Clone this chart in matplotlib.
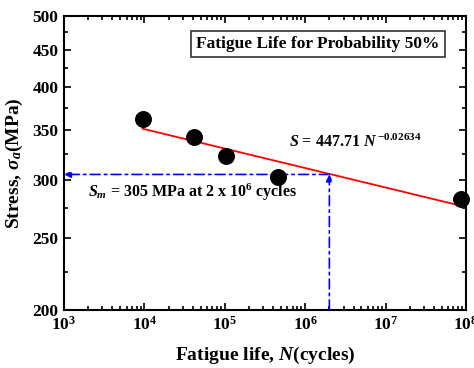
import numpy as np
import matplotlib
matplotlib.use("Agg")
import matplotlib.pyplot as plt
from matplotlib.ticker import LogLocator, FixedLocator, NullFormatter

plt.rcParams['font.family'] = ['Liberation Serif', 'DejaVu Serif']
plt.rcParams['mathtext.fontset'] = 'custom'
plt.rcParams['mathtext.rm'] = 'Liberation Serif:bold'
plt.rcParams['mathtext.it'] = 'Liberation Serif:bold:italic'
plt.rcParams['mathtext.bf'] = 'Liberation Serif:bold'

# test data
cycles = [9.5e3, 4.1e4, 1.03e5, 4.6e5, 8.7e7]
stress = [362.6, 342.6, 323.0, 302.8, 282.6]

# basquin fit S = A * N^b
fit_A = 447.71
fit_b = -0.02634
fit_range = [9.5e3, 9.0e7]

target_N = 2e6
target_S = 305

yticks = [200, 250, 300, 350, 400, 450, 500]
yminor = [225, 275, 325, 375, 425, 475]

fig = plt.figure(figsize=(4.74, 3.68), dpi=100)
ax = fig.add_axes([0.135, 0.158, 0.848, 0.799])

N = np.logspace(np.log10(fit_range[0]), np.log10(fit_range[1]), 100)
ax.plot(N, fit_A * N ** fit_b, color='red', lw=1.3, zorder=3)
ax.scatter(cycles, stress, s=125, color='black', zorder=4, clip_on=False)

# blue guide lines with arrow heads
ax.annotate('', xy=(target_N, target_S), xytext=(target_N, 200),
            arrowprops=dict(arrowstyle='-|>', color='blue', lw=1.2, ls=(0, (6, 2.5, 1.5, 2.5)),
                            mutation_scale=10, shrinkA=0, shrinkB=0))
ax.annotate('', xy=(1e3, target_S), xytext=(target_N, target_S),
            arrowprops=dict(arrowstyle='-|>', color='blue', lw=1.2, ls=(0, (6, 2.5, 1.5, 2.5)),
                            mutation_scale=10, shrinkA=0, shrinkB=0))

ax.set_xscale('log')
ax.set_yscale('log')
ax.set_xlim(1e3, 1e8)
ax.set_ylim(200, 500)

ax.xaxis.set_major_locator(LogLocator(base=10, numticks=10))
ax.xaxis.set_minor_locator(LogLocator(base=10, subs=np.arange(2, 10), numticks=20))
ax.xaxis.set_minor_formatter(NullFormatter())
ax.yaxis.set_major_locator(FixedLocator(yticks))
ax.yaxis.set_minor_locator(FixedLocator(yminor))
ax.set_yticklabels([str(v) for v in yticks])
ax.yaxis.set_minor_formatter(NullFormatter())

ax.tick_params(which='both', direction='in', top=True, right=True, width=1.2)
ax.tick_params(which='major', length=5, labelsize=12.5, pad=4)
ax.tick_params(which='minor', length=3)
for lab in ax.get_xticklabels() + ax.get_yticklabels():
    lab.set_fontweight('bold')
for s in ax.spines.values():
    s.set_linewidth(1.5)

ax.set_xlabel(r'Fatigue life, $\it{N}$(cycles)', fontsize=14, fontweight='bold', labelpad=8)
ax.set_ylabel(r'Stress, $\sigma_a$(MPa)', fontsize=14, fontweight='bold', labelpad=5)

ax.text(0.935, 0.905, 'Fatigue Life for Probability 50%', transform=ax.transAxes,
        ha='right', va='center', fontsize=12.5, fontweight='bold',
        bbox=dict(boxstyle='square,pad=0.3', fc='white', ec='#333333', lw=1.2))
ax.text(0.56, 0.555, r'$S$ = 447.71 $N^{\,\mathrm{-0.02634}}$', transform=ax.transAxes,
        fontsize=11.5, fontweight='bold')
ax.text(0.06, 0.385, r'$S_m$ = 305 MPa at 2 x 10$^6$ cycles', transform=ax.transAxes,
        fontsize=11.5, fontweight='bold')

fig.savefig('out.png', dpi=100)
